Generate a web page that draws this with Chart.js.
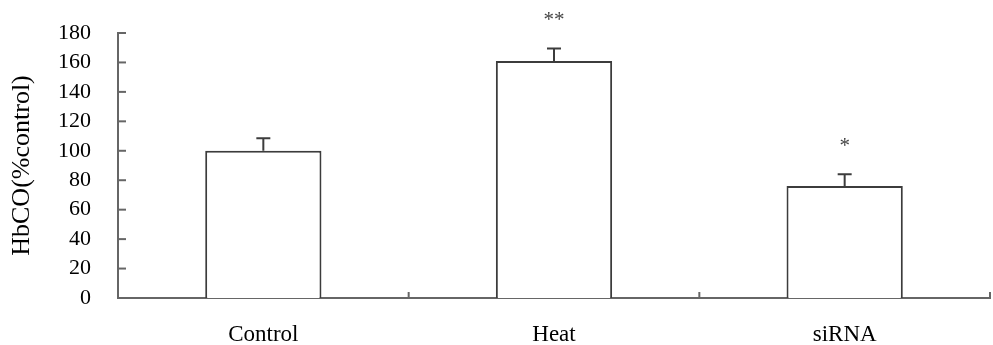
<!DOCTYPE html>
<html>
<head>
<meta charset="utf-8">
<script src="https://cdn.jsdelivr.net/npm/chart.js@4.4.1/dist/chart.umd.min.js"></script>
<style>
  html, body { margin: 0; padding: 0; background: #fff; }
  #wrap { width: 993px; height: 345px; }
</style>
</head>
<body>
<div id="wrap"><canvas id="myChart" width="993" height="345"></canvas></div>
<script>
// Data
const groups = ['Control', 'Heat', 'siRNA'];
const hbco = [100, 161, 76];
const sem = [8.5, 8.5, 8];
const stars = ['', '**', '*'];
const yTicks = [0, 20, 40, 60, 80, 100, 120, 140, 160, 180];

const lineColor = '#3c3c3c';
const axisColor = '#666';
const serif = '"Liberation Serif", "Times New Roman", serif';

// error bars, asterisks and inward tick marks
const extras = {
    id: 'extras',
    afterDatasetsDraw(chart) {
        const c = chart.ctx;
        const x = chart.scales.x;
        const y = chart.scales.y;
        const area = chart.chartArea;

        c.save();
        c.strokeStyle = lineColor;
        c.lineWidth = 2;
        hbco.forEach((v, i) => {
            const px = x.getPixelForValue(i);
            const top = y.getPixelForValue(v);
            const end = y.getPixelForValue(v + sem[i]);
            c.beginPath();
            c.moveTo(px, top);
            c.lineTo(px, end);
            c.moveTo(px - 7, end);
            c.lineTo(px + 7, end);
            c.stroke();

            if (stars[i]) {
                c.fillStyle = '#444';
                c.font = '21px ' + serif;
                c.textAlign = 'center';
                c.textBaseline = 'alphabetic';
                c.fillText(stars[i], px, end - 22);
            }
        });

        // ticks pointing into the plot
        c.strokeStyle = axisColor;
        c.lineWidth = 2;
        yTicks.forEach(t => {
            const py = y.getPixelForValue(t);
            c.beginPath();
            c.moveTo(area.left, py);
            c.lineTo(area.left + 8, py);
            c.stroke();
        });
        const half = (x.getPixelForValue(1) - x.getPixelForValue(0)) / 2;
        for (let i = 0; i < groups.length; i++) {
            const px = x.getPixelForValue(i) + half;
            c.beginPath();
            c.moveTo(px, area.bottom);
            c.lineTo(px, area.bottom - 6);
            c.stroke();
        }
        c.restore();
    }
};

const ctx = document.getElementById('myChart').getContext('2d');
const myChart = new Chart(ctx, {
    type: 'bar',
    data: {
        labels: groups,
        datasets: [{
            data: hbco,
            backgroundColor: '#fff',
            borderColor: lineColor,
            borderWidth: 2,
            barPercentage: 0.4,
            categoryPercentage: 1
        }]
    },
    options: {
        responsive: false,
        animation: false,
        layout: { padding: { top: 33, right: 3, left: 7, bottom: 0 } },
        plugins: {
            legend: { display: false },
            tooltip: { enabled: false }
        },
        scales: {
            x: {
                grid: { display: false },
                border: { display: true, color: axisColor, width: 2 },
                ticks: {
                    color: '#000',
                    padding: 15,
                    font: { family: serif, size: 23 }
                },
                afterFit(scale) { scale.height = 47; }
            },
            y: {
                min: 0,
                max: 180,
                grid: { display: false },
                border: { display: true, color: axisColor, width: 2 },
                ticks: {
                    stepSize: 20,
                    autoSkip: false,
                    color: '#000',
                    padding: 19,
                    font: { family: serif, size: 22 }
                },
                afterBuildTicks(scale) {
                    scale.ticks = yTicks.map(v => ({ value: v }));
                },
                title: {
                    display: true,
                    text: 'HbCO(%control)',
                    color: '#000',
                    padding: 0,
                    font: { family: serif, size: 26 }
                },
                afterFit(scale) { scale.width = 111; }
            }
        }
    },
    plugins: [extras]
});
</script>
</body>
</html>
